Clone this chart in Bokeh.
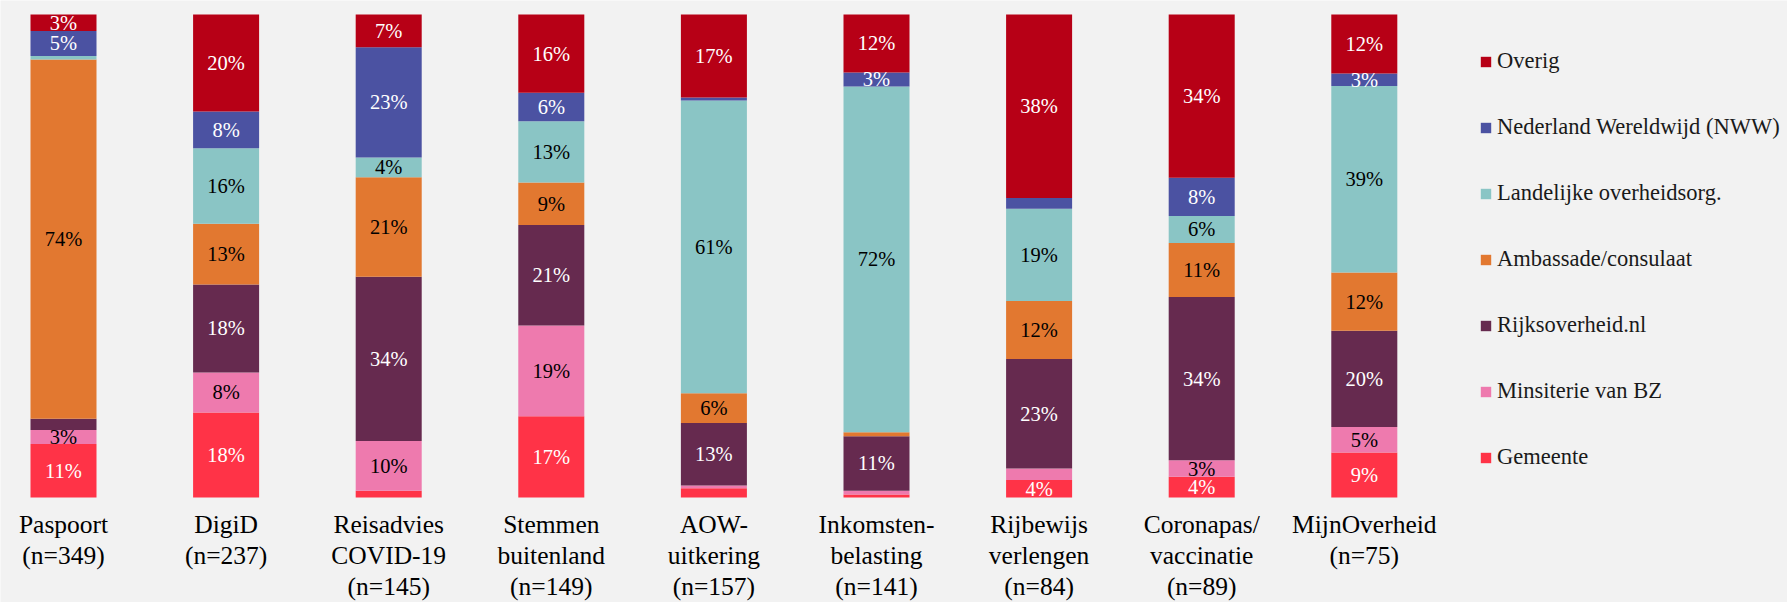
import numpy as np
from bokeh.plotting import figure
from bokeh.models import ColumnDataSource, Range1d, Legend, LegendItem
from bokeh.core.properties import value
from bokeh.embed import file_html
from bokeh.resources import INLINE

categories = ["Paspoort\n(n=349)", "DigiD\n(n=237)", "Reisadvies\nCOVID-19\n(n=145)",
              "Stemmen\nbuitenland\n(n=149)", "AOW-\nuitkering\n(n=157)",
              "Inkomsten-\nbelasting\n(n=141)", "Rijbewijs\nverlengen\n(n=84)",
              "Coronapas/\nvaccinatie\n(n=89)", "MijnOverheid\n(n=75)"]

series_names = ["Gemeente", "Minsiterie van BZ", "Rijksoverheid.nl", "Ambassade/consulaat",
                "Landelijke overheidsorg.", "Nederland Wereldwijd (NWW)", "Overig"]

gemeente = [11.1, 17.6, 1.4, 16.8, 1.9, 0.6, 3.6, 4.3, 9.3]
bz = [2.9, 8.3, 10.3, 18.8, 0.6, 0.8, 2.4, 3.4, 5.3]
rijks = [2.3, 18.2, 34.0, 20.8, 12.9, 11.3, 22.7, 33.8, 19.9]
ambassade = [74.4, 12.6, 20.6, 8.8, 6.2, 0.8, 12.0, 11.2, 12.1]
landelijk = [0.7, 15.6, 4.1, 12.7, 60.6, 71.6, 19.1, 5.6, 38.6]
nww = [5.2, 7.6, 22.8, 5.9, 0.6, 2.9, 2.2, 7.9, 2.6]
overig = [3.4, 20.1, 6.8, 16.2, 17.2, 12.0, 38.0, 33.8, 12.2]

colors = ["#FF3347", "#EE7AAE", "#662A4F", "#E27830", "#8AC5C5", "#4B52A2", "#B70016"]
label_colors = ["white", "black", "white", "black", "black", "white", "white"]

series = [gemeente, bz, rijks, ambassade, landelijk, nww, overig]

BG = "#F2F2F2"
FONT = "Liberation Serif"

n = len(categories)
xs = list(range(n))
W, H = 1787, 602
# pixel geometry of the frame
spacing = 162.6          # px between bar centres
first_center = 63        # px of first bar centre
bar_top, bar_bottom = 14, 497
ppu = (bar_bottom - bar_top) / 100.0
x0 = -first_center / spacing
y_end = 100 + bar_top / ppu
y_start = -(H - bar_bottom) / ppu

p = figure(width=W, height=H, output_backend="svg", toolbar_location=None,
           x_range=Range1d(x0, x0 + W / spacing), y_range=Range1d(y_start, y_end),
           min_border=0)
p.background_fill_color = BG
p.border_fill_color = BG
p.outline_line_color = None
p.grid.visible = False
p.axis.visible = False

data = {"x": xs}
for name, vals in zip(series_names, series):
    data[name] = vals
src = ColumnDataSource(data)

renderers = p.vbar_stack(series_names, x="x", width=0.406, source=src,
                         color=colors, line_color=None)

# segment labels
tx, ty, tt, tc = [], [], [], []
bottom = np.zeros(n)
for vals, lc in zip(series, label_colors):
    v = np.array(vals)
    for i in range(n):
        if v[i] >= 2.5:
            tx.append(xs[i])
            ty.append(bottom[i] + v[i] / 2)
            tt.append(f"{round(v[i])}%")
            tc.append(lc)
    bottom = bottom + v
p.text(x=tx, y=ty, text=tt, text_color=tc, text_align="center", text_baseline="middle",
       text_font=value(FONT), text_font_size="20.5px")

# category labels below the bars
label_top = -(509 - bar_bottom) / ppu
p.text(x=xs, y=[label_top] * n, text=categories, text_color="black",
       text_align="center", text_baseline="top", text_line_height=1.07,
       text_font=value(FONT), text_font_size="25.5px")

items = [LegendItem(label=name, renderers=[r]) for name, r in zip(series_names, renderers)][::-1]
legend = Legend(items=items, location=(1479, H - 470), orientation="vertical",
                glyph_width=13, glyph_height=13, label_height=26, spacing=40,
                label_standoff=5, padding=0, margin=0,
                label_text_font=FONT, label_text_font_size="22.5px", label_text_color="#1a1a1a",
                background_fill_alpha=0, border_line_color=None)
p.add_layout(legend, "center")

open("out.html", "w").write(file_html(p, INLINE))
